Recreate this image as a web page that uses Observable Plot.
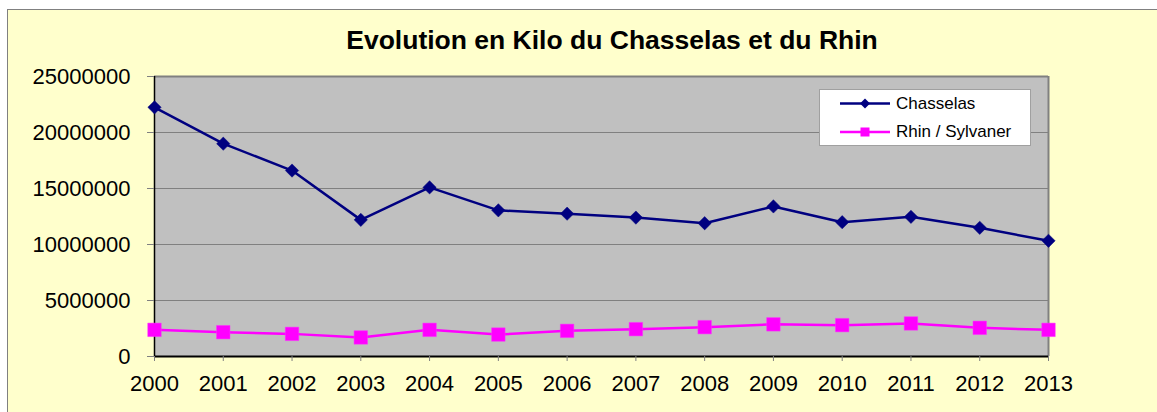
<!DOCTYPE html>
<html>
<head>
<meta charset="utf-8">
<script src="https://cdn.jsdelivr.net/npm/d3@7"></script>
<script src="https://cdn.jsdelivr.net/npm/@observablehq/plot@0.6"></script>
<style>
  html, body { margin: 0; padding: 0; background: #ffffff; width: 1157px; height: 412px; overflow: hidden; }
  body { position: relative; font-family: "Liberation Sans", Arial, sans-serif; }
  #bg { position: absolute; left: 7px; top: 9px; width: 1150px; height: 403px; box-sizing: border-box;
        background: #FFFFCC; border-left: 1px solid #808080; border-top: 1px solid #808080; }
  #chart { position: absolute; left: 0; top: 0; }
  #title { position: absolute; left: 0; width: 1224px; top: 27px; text-align: center;
           font-weight: bold; font-size: 26.5px; line-height: 26px; color: #000; white-space: nowrap; }
  #legend { position: absolute; left: 819px; top: 89px; width: 212px; height: 57px; box-sizing: border-box;
            background: #fff; border: 1px solid #A0A0A0; }
  .item { position: absolute; left: 76px; font-size: 17px; line-height: 17px; color: #000; white-space: nowrap; }
  #sw { position: absolute; left: 0; top: 0; }
</style>
</head>
<body>
<div id="bg"></div>
<div id="chart"></div>
<div id="title"></div>
<div id="legend"></div>
<script>
const years = [2000, 2001, 2002, 2003, 2004, 2005, 2006, 2007, 2008, 2009, 2010, 2011, 2012, 2013];
const chasselas = [22250000, 19000000, 16600000, 12200000, 15100000, 13050000, 12750000, 12400000, 11900000, 13400000, 11990000, 12470000, 11490000, 10330000];
const rhin = [2380000, 2170000, 2020000, 1700000, 2380000, 1960000, 2290000, 2440000, 2620000, 2870000, 2800000, 2950000, 2560000, 2380000];
const yTicks = [0, 5000000, 10000000, 15000000, 20000000, 25000000];
const seriesNames = ["Chasselas", "Rhin / Sylvaner"];
const seriesColors = ["#000080", "#FF00FF"];
const titleText = "Evolution en Kilo du Chasselas et du Rhin";

const rowsC = years.map((y, i) => ({year: y, value: chasselas[i]}));
const rowsR = years.map((y, i) => ({year: y, value: rhin[i]}));
const yMax = yTicks[yTicks.length - 1];

const chart = Plot.plot({
  width: 1157,
  height: 412,
  marginLeft: 154,
  marginRight: 109,
  marginTop: 76,
  marginBottom: 56,
  style: {background: "transparent", fontFamily: "'Liberation Sans', Arial, sans-serif", fontSize: "22px", color: "#000", overflow: "visible"},
  x: {type: "point", domain: years, padding: 0, round: false},
  y: {domain: [0, yMax]},
  marks: [
    Plot.frame({fill: "#C0C0C0", stroke: "none"}),
    Plot.ruleY(yTicks.filter(d => d > 0 && d < yMax), {stroke: "#808080", strokeWidth: 1}),
    Plot.ruleY([yMax], {stroke: "#808080", strokeWidth: 2}),
    Plot.ruleX([years[years.length - 1]], {y1: 0, y2: yMax, stroke: "#808080", strokeWidth: 2}),
    Plot.ruleY([0], {stroke: "#000", strokeWidth: 2}),
    Plot.ruleX([years[0]], {y1: 0, y2: yMax, stroke: "#000", strokeWidth: 1.5}),
    Plot.axisY({ticks: yTicks, tickSize: 7, tickPadding: 17, tickFormat: d3.format("d"), stroke: "#808080", fill: "#000", fontSize: 22, label: null}),
    Plot.axisX({tickSize: 5, tickPadding: 14, tickFormat: d => String(d), stroke: "#808080", fill: "#000", fontSize: 22, label: null}),
    Plot.line(rowsR, {x: "year", y: "value", stroke: seriesColors[1], strokeWidth: 2.5}),
    Plot.dot(rowsR, {x: "year", y: "value", symbol: "square", r: 7.6, fill: seriesColors[1], stroke: "#FF33FF", strokeWidth: 0.5}),
    Plot.line(rowsC, {x: "year", y: "value", stroke: seriesColors[0], strokeWidth: 2.5}),
    Plot.dot(rowsC, {x: "year", y: "value", symbol: "diamond2", r: 6, fill: seriesColors[0], stroke: seriesColors[0], strokeWidth: 0.5})
  ]
});
document.getElementById("chart").appendChild(chart);
document.getElementById("title").textContent = titleText;

// Legend
const legend = document.getElementById("legend");
const ns = "http://www.w3.org/2000/svg";
const sw = document.createElementNS(ns, "svg");
sw.setAttribute("id", "sw");
sw.setAttribute("width", "210");
sw.setAttribute("height", "55");
const rowY = [13.5, 42];
seriesNames.forEach((name, i) => {
  const ln = document.createElementNS(ns, "line");
  ln.setAttribute("x1", 20); ln.setAttribute("x2", 70);
  ln.setAttribute("y1", rowY[i]); ln.setAttribute("y2", rowY[i]);
  ln.setAttribute("stroke", seriesColors[i]); ln.setAttribute("stroke-width", 2.5);
  sw.appendChild(ln);
  let m;
  if (i === 0) {
    m = document.createElementNS(ns, "path");
    const c = 45, y = rowY[i], h = 5;
    m.setAttribute("d", `M${c},${y - h}L${c + h},${y}L${c},${y + h}L${c - h},${y}Z`);
  } else {
    m = document.createElementNS(ns, "rect");
    m.setAttribute("x", 40.5); m.setAttribute("y", rowY[i] - 4.5);
    m.setAttribute("width", 9); m.setAttribute("height", 9);
  }
  m.setAttribute("fill", seriesColors[i]);
  sw.appendChild(m);
  const t = document.createElement("div");
  t.className = "item";
  t.style.top = (rowY[i] - 9) + "px";
  t.textContent = name;
  legend.appendChild(t);
});
legend.appendChild(sw);
</script>
</body>
</html>
